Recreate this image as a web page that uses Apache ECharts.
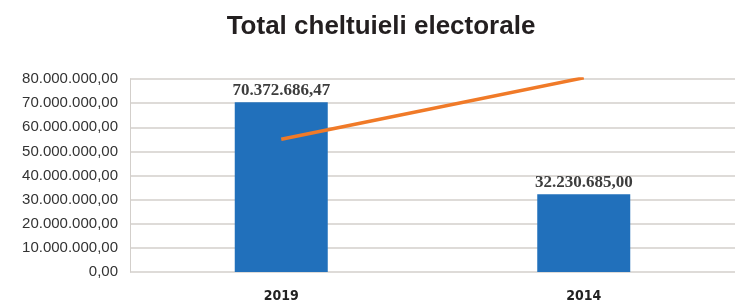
<!DOCTYPE html>
<html>
<head>
<meta charset="utf-8">
<script src="https://cdn.jsdelivr.net/npm/echarts@6/dist/echarts.min.js"></script>
<style>
  html, body { margin: 0; padding: 0; background: #fff; }
  #chart { width: 735px; height: 304px; }
</style>
</head>
<body>
<div id="chart"></div>
<script>
// date
const years = ['2019', '2014']
const totalCheltuieli = [70372686.47, 32230685.00]
const trendLine = [55000000, 80500000]
const yTicks = [0, 10000000, 20000000, 30000000, 40000000, 50000000, 60000000, 70000000, 80000000]

// format romanesc: 70.372.686,47
function fmtRo (v) {
  const parts = Number(v).toFixed(2).split('.')
  return parts[0].replace(/\B(?=(\d{3})+(?!\d))/g, '.') + ',' + parts[1]
}

const chart = echarts.init(document.getElementById('chart'))
chart.setOption({
  animation: false,
  title: {
    text: 'Total cheltuieli electorale',
    left: 376,
    textAlign: 'center',
    top: 9,
    textStyle: { fontFamily: 'Liberation Sans', fontSize: 26, fontWeight: 'bold', color: '#231f20' }
  },
  grid: { left: 130, right: 0, top: 79, bottom: 32 },
  xAxis: {
    type: 'category',
    data: years,
    axisLine: { show: false },
    axisTick: { show: false },
    axisLabel: {
      margin: 17,
      fontFamily: 'DejaVu Sans Condensed',
      fontSize: 14,
      fontWeight: 'bold',
      color: '#222'
    }
  },
  yAxis: {
    type: 'value',
    min: yTicks[0],
    max: yTicks[yTicks.length - 1],
    interval: yTicks[1] - yTicks[0],
    axisLine: { show: true, lineStyle: { color: '#d3cfcb', width: 1 } },
    axisTick: { show: false },
    splitLine: { lineStyle: { color: '#d3cfcb', width: 1.5 } },
    axisLabel: {
      margin: 12,
      fontFamily: 'Liberation Sans',
      fontSize: 15,
      color: '#333',
      formatter: v => fmtRo(v)
    }
  },
  series: [
    {
      type: 'bar',
      data: totalCheltuieli,
      barWidth: 93,
      itemStyle: { color: '#2170bb' },
      label: {
        show: true,
        position: 'top',
        distance: 3,
        fontFamily: 'Liberation Serif',
        fontSize: 17,
        fontWeight: 'bold',
        color: '#3d3d3d',
        formatter: p => fmtRo(p.value)
      }
    },
    {
      type: 'line',
      data: trendLine,
      symbol: 'none',
      lineStyle: { color: '#f07a28', width: 3.5 },
      z: 5
    }
  ]
})
</script>
</body>
</html>
